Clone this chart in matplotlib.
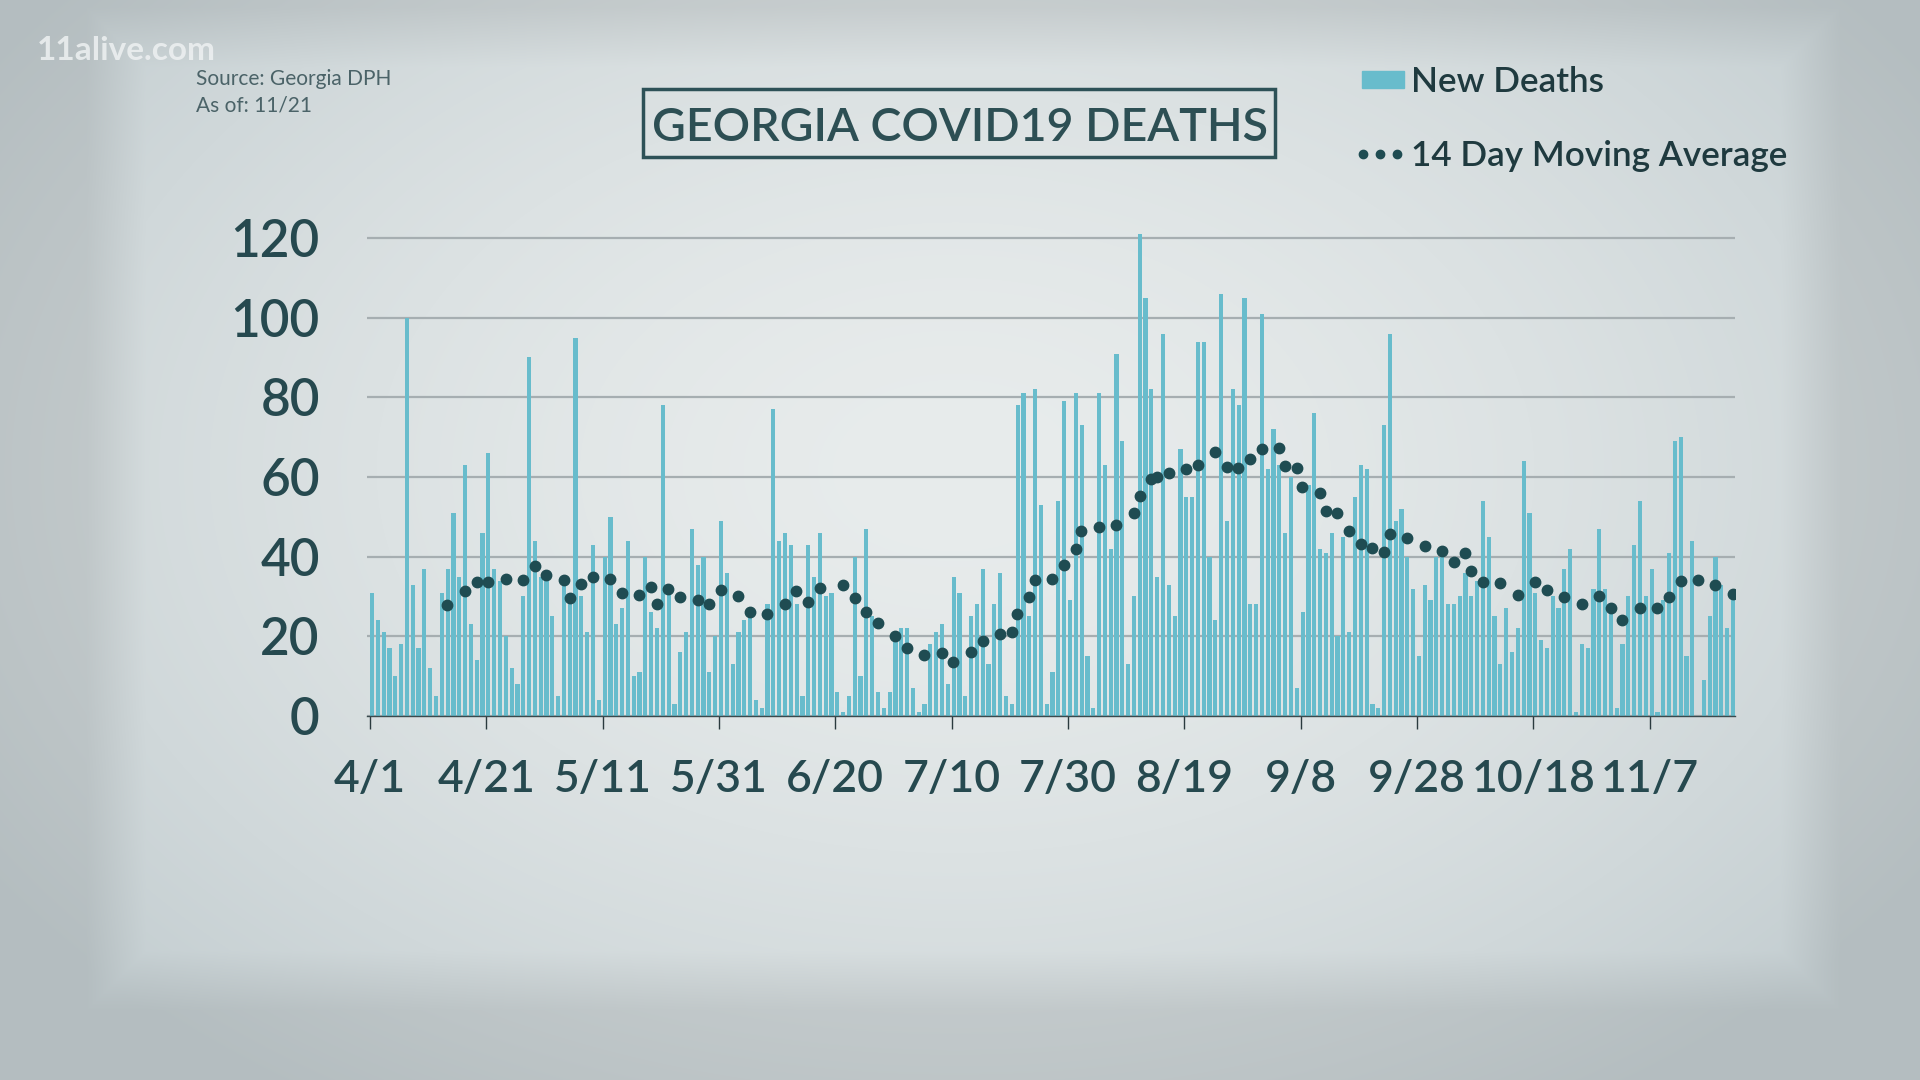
import numpy as np
import pandas as pd
import matplotlib
matplotlib.use("Agg")
import matplotlib.pyplot as plt
from matplotlib.patches import Rectangle

# daily new deaths starting 4/1
new_deaths = [
    31, 24, 21, 17, 10, 18, 100, 33, 17, 37, 12, 5, 31, 37, 51, 35, 63, 23, 14, 46,
    66, 37, 34, 20, 12, 8, 30, 90, 44, 35, 35, 25, 5, 33, 30, 95, 30, 21, 43, 4,
    40, 50, 23, 27, 44, 10, 11, 40, 26, 22, 78, 32, 3, 16, 21, 47, 38, 40, 11, 20,
    49, 36, 13, 21, 24, 27, 4, 2, 28, 77, 44, 46, 43, 28, 5, 43, 35, 46, 30, 31,
    6, 1, 5, 40, 10, 47, 25, 6, 2, 6, 21, 22, 22, 7, 1, 3, 18, 21, 23, 8,
    35, 31, 5, 25, 28, 37, 13, 28, 36, 5, 3, 78, 81, 25, 82, 53, 3, 11, 54, 79,
    29, 81, 73, 15, 2, 81, 63, 42, 91, 69, 13, 30, 122, 105, 82, 35, 96, 33, 25, 67,
    55, 55, 94, 94, 40, 24, 106, 49, 82, 78, 105, 28, 28, 101, 62, 72, 63, 46, 60, 7,
    26, 58, 76, 42, 41, 46, 20, 45, 21, 55, 63, 62, 3, 2, 73, 96, 49, 52, 40, 32,
    15, 33, 29, 40, 41, 28, 28, 30, 36, 30, 34, 54, 45, 25, 13, 27, 16, 22, 64, 51,
    31, 19, 17, 30, 27, 37, 42, 1, 18, 17, 32, 47, 32, 26, 2, 18, 30, 43, 54, 30,
    37, 1, 29, 41, 69, 70, 15, 44, 0, 9, 25, 40, 33, 22, 30,
]

# 14 day moving average (days after 4/1)
ma_day = [
    13, 16, 18, 20, 23, 26, 28, 30, 33, 34, 36, 38, 41, 43, 46, 48, 49, 51, 53, 56,
    58, 60, 63, 65, 68, 71, 73, 75, 77, 81, 83, 85, 87, 90, 92, 95, 98, 100, 103, 105,
    108, 110, 111, 113, 114, 117, 119, 121, 122, 125, 128, 131, 132, 134, 135, 137, 140, 142, 145, 147,
    149, 151, 153, 156, 157, 159, 160, 163, 164, 166, 168, 170, 172, 174, 175, 178, 181, 184, 186, 188,
    189, 191, 194, 197, 200, 202, 205, 208, 211, 213, 215, 218, 221, 223, 225, 228, 231, 234,
]
ma_value = [
    27.8, 31.3, 33.7, 33.7, 34.5, 34.1, 37.7, 35.5, 34.1, 29.5, 33.1, 35.0, 34.3, 30.8, 30.5, 32.4, 28.0, 31.9, 29.8, 29.1,
    28.2, 31.6, 30.0, 26.0, 25.5, 28.2, 31.3, 28.7, 32.2, 32.9, 29.7, 26.0, 23.4, 20.1, 17.1, 15.4, 15.7, 13.6, 16.1, 18.8,
    20.7, 21.0, 25.6, 29.9, 34.1, 34.4, 38.0, 42.0, 46.5, 47.5, 48.0, 50.9, 55.2, 59.4, 59.9, 60.9, 61.9, 63.0, 66.2, 62.6,
    62.2, 64.5, 67.0, 67.2, 62.8, 62.2, 57.6, 56.1, 51.5, 50.9, 46.4, 43.2, 42.1, 41.2, 45.7, 44.6, 42.7, 41.4, 38.7, 41.0,
    36.4, 33.7, 33.3, 30.5, 33.7, 31.6, 29.9, 28.2, 30.1, 27.2, 24.2, 27.2, 27.2, 29.9, 33.9, 34.1, 32.9, 30.6,
]

tick_labels = ["4/1", "4/21", "5/11", "5/31", "6/20", "7/10", "7/30", "8/19",
               "9/8", "9/28", "10/18", "11/7"]
y_ticks = [0, 20, 40, 60, 80, 100, 120]

BAR = "#68bccc"
DOT = "#1f4c52"
TEXT = "#26494f"
FONT = "Lato"

start = pd.Timestamp("2020-04-01")
dates = pd.date_range(start, periods=len(new_deaths), freq="D")
ma_dates = start + pd.to_timedelta(ma_day, unit="D") + pd.Timedelta(hours=8)
tick_dates = [pd.Timestamp("2020-" + t.replace("/", "-")) for t in tick_labels]

fig = plt.figure(figsize=(19.2, 10.8), dpi=100)

# background: soft grey-blue vignette with a lighter inner panel
bg = fig.add_axes([0, 0, 1, 1], zorder=0)
H, W = 1080, 1920
Y, X = np.mgrid[0:H, 0:W]
r = np.sqrt(((X - 955) / 1150.0) ** 2 + ((Y - 470) / 760.0) ** 2)
r = np.clip(r, 0, 1) ** 1.6
center = np.array([232, 236, 236]) / 255.0
edge = np.array([196, 206, 209]) / 255.0
img = center[None, None, :] + (edge - center)[None, None, :] * r[:, :, None]
feather = 30.0
dx = np.minimum(X - 116, 1810 - X)
dy = np.minimum(Y - 37, 980 - Y)
d = np.minimum(dx, dy)
inside = np.clip((d + feather) / (2 * feather), 0, 1)
shade = 0.92 + 0.08 * inside
img = img * shade[:, :, None]
bg.imshow(img, extent=(0, 1, 0, 1), aspect="auto", origin="upper")
bg.set_xlim(0, 1)
bg.set_ylim(0, 1)
bg.axis("off")

# main chart
ax = fig.add_axes([367 / W, 1 - 716 / H, (1735 - 367) / W, (716 - 234) / H], zorder=2)
ax.patch.set_alpha(0)
ax.bar(dates, new_deaths, width=0.72, align="edge", color=BAR, zorder=2)
ax.plot(ma_dates, ma_value, linestyle="none", marker="o", markersize=7.5,
        color=DOT, zorder=3)

ax.set_xlim(start - pd.Timedelta(hours=12), start + pd.Timedelta(days=234.7))
ax.set_ylim(0, 121)
ax.set_yticks(y_ticks)
ax.set_yticklabels([str(v) for v in y_ticks])
ax.set_xticks(tick_dates)
ax.set_xticklabels(tick_labels)
ax.grid(axis="y", color="#a6aeb1", linewidth=1.6, zorder=0)
ax.set_axisbelow(True)
for s in ["top", "right", "left"]:
    ax.spines[s].set_visible(False)
ax.spines["bottom"].set_color("#3a4a4e")
ax.spines["bottom"].set_linewidth(1.0)
ax.tick_params(axis="y", length=0, pad=34, labelsize=37, labelcolor=TEXT)
ax.tick_params(axis="x", direction="out", length=9, width=1.0, color="#2a3a3e",
               pad=22, labelsize=32, labelcolor=TEXT)
for lab in ax.get_yticklabels() + ax.get_xticklabels():
    lab.set_fontfamily(FONT)
    lab.set_fontweight("semibold")

# header texts
fig.text(37 / W, 1 - 50 / H, "11alive.com", fontsize=24, fontweight="bold",
         family=FONT, color="#eef1f2", alpha=0.85, va="center", ha="left", zorder=5)
fig.text(196 / W, 1 - 79 / H, "Source: Georgia DPH", fontsize=15, family=FONT,
         color="#4b6368", va="center", ha="left", zorder=5)
fig.text(196 / W, 1 - 105 / H, "As of: 11/21", fontsize=15, family=FONT,
         color="#4b6368", va="center", ha="left", zorder=5)

bg.add_patch(Rectangle((643 / W, 1 - 157 / H), (1275 - 643) / W, 68 / H,
                       fill=False, edgecolor="#2d5157", linewidth=2.5, zorder=4))
fig.text(960 / W, 1 - 128 / H, "GEORGIA COVID19 DEATHS", fontsize=33.5,
         fontweight="semibold", family=FONT, color="#2d4f54", va="center",
         ha="center", zorder=5)

# legend
bg.add_patch(Rectangle((1362 / W, 1 - 88 / H), 42 / W, 17 / H, color=BAR, zorder=4))
fig.text(1411 / W, 1 - 82 / H, "New Deaths", fontsize=25.3, family=FONT,
         fontweight="semibold", color="#1f3a3f", va="center", ha="left", zorder=5)
bg.plot([1363 / W, 1380 / W, 1397 / W], [1 - 154 / H] * 3, linestyle="none",
        marker="o", markersize=6, color=DOT, zorder=4)
fig.text(1411 / W, 1 - 156 / H, "14 Day Moving Average", fontsize=25.3, family=FONT,
         fontweight="semibold", color="#1f3a3f", va="center", ha="left", zorder=5)

fig.savefig("out.png", dpi=100)
